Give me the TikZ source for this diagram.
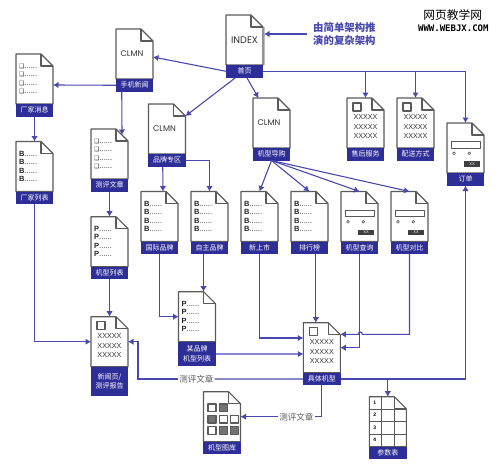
\documentclass[tikz,border=0pt]{standalone}
\usepackage{fontspec}
\setmainfont{Liberation Sans}
\newfontfamily\cjk{Noto Sans CJK SC}
\newfontfamily\dingfont{DejaVu Sans}
\newfontfamily\capsfont{Poppins}
\newfontfamily\sitefont{DejaVu Sans Mono}
\usetikzlibrary{arrows.meta,positioning}
\definecolor{tagblue}{HTML}{2E2E98}
\definecolor{flowblue}{HTML}{4848AE}
\definecolor{notegrey}{HTML}{5A5A5A}
\tikzset{
	sheetbody/.style = {anchor=north west,minimum width=37pt,minimum height=50pt,inner sep=0pt,outer sep=0pt},
	sheetline/.style = {draw=notegrey,line width=1.1pt,line join=round},
	sheettag/.style = {fill=tagblue,text=white,minimum width=37.5pt,inner sep=0pt,outer sep=0pt,align=center,font=\cjk\fontsize{7}{9.5}\selectfont},
	rowtext/.style = {anchor=west,inner sep=0pt,text=black!85,font=\fontsize{7.5}{8}\selectfont},
	midtext/.style = {inner sep=0pt,text=black!80,font=\fontsize{7.2}{8}\selectfont},
	capstext/.style = {inner sep=0pt,text=black!80,font=\capsfont\fontsize{8.2}{9}\selectfont},
	flow/.style = {draw=flowblue,line width=1.1pt,-{Latex[length=5.5pt,width=6.5pt]}},
	plainflow/.style = {draw=flowblue,line width=1.1pt},
	flowtext/.style = {fill=white,inner sep=1pt,text=notegrey,font=\cjk\fontsize{8.5}{9}\selectfont}
}
\newcommand{\sheet}[4][12.5pt]{\node[sheetbody] (#2) at (#3) {};
 	\draw[sheetline,fill=white] (#2.north west) -- ++(25,0) -- ++(12,12) -- (#2.south east) -- (#2.south west) -- cycle;
 	\draw[sheetline] ([xshift=25pt]#2.north west) -- ++(0,12) -- ++(12,0);
 	\node[sheettag,minimum height=#1,below=0pt of #2] (#2-tag) {#4}}
\newcommand{\rows}[2]{\foreach \i/\d in {0/12,1/20.5,2/29,3/37.5}
 	\node[rowtext] (#1-row\i) at ([xshift=3pt,yshift=-\d pt]#1.north west) {#2}}
\newcommand{\xrows}[1]{\draw[sheetline] ([xshift=6pt,yshift=-5pt]#1.north west) rectangle ++(8,8);
 	\foreach \i/\d in {0/19.5,1/29,2/38.5}
 	\node[midtext] (#1-row\i) at ([yshift=-\d pt]#1.north) {XXXXX}}
\newcommand{\form}[1]{\draw[sheetline] ([xshift=4.7pt,yshift=-18.7pt]#1.north west) rectangle ++(29,6.6);
 	\draw[sheetline,line width=0.6pt] ([xshift=7pt,yshift=-30.3pt]#1.north west) circle (1.4);
 	\draw[sheetline,line width=0.6pt] ([xshift=22.3pt,yshift=-30.3pt]#1.north west) circle (1.4);
 	\node[fill=black!75,text=white,inner sep=0pt,minimum width=16pt,minimum height=5.7pt,font=\fontsize{4}{4}\selectfont] (#1-btn) at ([xshift=25pt,yshift=-41pt]#1.north west) {XX}}
\newcommand{\cell}[4]{\draw[sheetline,fill=#4] ([xshift=#2 pt,yshift=-#3 pt]#1.north west) rectangle ++(8,7.7)}
\newcommand{\gridnum}[3]{\node[inner sep=0pt,font=\bfseries\fontsize{5}{5}\selectfont] (#1-num#2) at ([xshift=5.5pt,yshift=-#3 pt]#1.north west) {#2}}

\begin{document}
\begin{tikzpicture}[x=1pt,y=-1pt]
	\useasboundingbox (0,0) rectangle (500,474);
%The shadow of the first page
	\draw[black!25,line width=1.6pt] (264.5,27) -- (264.5,65);
%The pages
	\sheet{home}{226,15}{首页};
	\sheet{news}{116,29}{手机新闻};
	\sheet{maker}{16,54}{厂家消息};
	\sheet{makerlist}{16,141.5}{厂家列表};
	\sheet{review}{91,129}{测评文章};
	\sheet{modellist}{91,216.7}{机型列表};
	\sheet[29.5pt]{article}{91,316.7}{新闻页/\\测评报告};
	\sheet{brand}{148.5,104}{品牌专区};
	\sheet{intl}{141,191.5}{国际品牌};
	\sheet{own}{191,191.5}{自主品牌};
	\sheet[24.5pt]{some}{178.5,291.7}{某品牌\\机型列表};
	\sheet{guide}{253,98}{机型导购};
	\sheet{fresh}{241,191.5}{新上市};
	\sheet{rank}{291,191.5}{排行榜};
	\sheet{query}{341,191.5}{机型查询};
	\sheet{compare}{391,191.5}{机型对比};
	\sheet{service}{347,98}{售后服务};
	\sheet{delivery}{397,98}{配送方式};
	\sheet{order}{447,123}{订单};
	\sheet{deal}{303.3,322.7}{具体机型};
	\sheet{gallery}{203.5,391.7}{机型图库};
	\sheet{param}{369.3,396.7}{参数表};
%The page contents
	\node[capstext,font=\capsfont\fontsize{9.6}{10}\selectfont] (home-name) at ([xshift=18.5pt,yshift=-24.7pt]home.north west) {INDEX};
	\node[capstext] (news-name) at ([xshift=16pt,yshift=-24.7pt]news.north west) {CLMN};
	\node[capstext] (brand-name) at ([xshift=16pt,yshift=-24.7pt]brand.north west) {CLMN};
	\node[capstext] (guide-name) at ([xshift=16pt,yshift=-24.7pt]guide.north west) {CLMN};
	\rows{maker}{{\dingfont\fontsize{6}{6}\selectfont ❑}......};
	\rows{review}{{\dingfont\fontsize{6}{6}\selectfont ❑}......};
	\rows{makerlist}{\textbf{B}......};
	\rows{intl}{\textbf{B}......};
	\rows{own}{\textbf{B}......};
	\rows{fresh}{\textbf{B}......};
	\rows{rank}{\textbf{B}......};
	\rows{modellist}{\textbf{P}......};
	\rows{some}{\textbf{P}......};
	\xrows{article};
	\xrows{service};
	\xrows{delivery};
	\xrows{deal};
	\form{query};
	\form{compare};
	\form{order};
%The gallery squares
	\cell{gallery}{4.5}{12.3}{white};
	\cell{gallery}{15.8}{12.3}{black!55};
	\cell{gallery}{4.5}{23.6}{black!55};
	\cell{gallery}{15.8}{23.6}{white};
	\cell{gallery}{27.2}{23.6}{white};
	\cell{gallery}{4.5}{35}{white};
	\cell{gallery}{15.8}{35}{black!55};
	\cell{gallery}{27.2}{35}{black!55};
%The table grid
	\foreach \d in {12.5,25} \draw[sheetline] ([xshift=\d pt]param.north west) -- ([xshift=\d pt]param.south west);
	\draw[sheetline] ([yshift=-12.5pt]param.north west) -- ([yshift=-12.5pt]param.north east);
	\draw[sheetline] ([yshift=-25pt]param.north west) -- ([yshift=-25pt]param.north east);
	\draw[sheetline] ([yshift=-37.5pt]param.north west) -- ([yshift=-37.5pt]param.north east);
	\gridnum{param}{1}{6};
	\gridnum{param}{2}{18.5};
	\gridnum{param}{3}{31};
	\gridnum{param}{4}{43.5};
%The links from the first page
	\draw[flow] (home-tag.west) -- ([yshift=-3pt]news.east);
	\draw[flow] ([xshift=10pt]home-tag.south west) -- ([yshift=-12pt]brand.north east);
	\draw[flow] ([xshift=21pt]home-tag.south west) -- ([xshift=5.5pt]guide.north west);
	\draw[flow] (home-tag.east) -| (order.north);
	\draw[flow] (home-tag.east -| service.north) -- (service.north);
	\draw[flow] (home-tag.east -| delivery.north) -- (delivery.north);
%The left part
	\draw[flow] (news-tag.west) -- ([yshift=-6pt]maker.east);
	\draw[flow] ([xshift=6pt]news-tag.south west) -- ([xshift=31pt,yshift=-6pt]review.north west);
	\draw[flow] (maker-tag.south) -- (makerlist.north);
	\draw[flow] (makerlist-tag.south) |- (article.west);
	\draw[flow] (review-tag.south) -- (modellist.north);
	\draw[flow] (modellist-tag.south) -- (article.north);
%The brands
	\draw[flow] ([xshift=14.5pt]brand-tag.south west) -- ([xshift=3.5pt]intl.north);
	\draw[flow] (brand-tag.east) -| (own.north);
	\draw[flow] (intl-tag.south) |- (some.west);
	\draw[flow] ([xshift=6.5pt]some.north |- own-tag.south) -- ([xshift=6.5pt]some.north);
%The guide
	\draw[flow] (guide-tag.south) -- (fresh.north);
	\draw[flow] (guide-tag.south) -- (rank.north);
	\draw[flow] (guide-tag.south) -- (query.north);
	\draw[flow] (guide-tag.south) -- (compare.north);
%The links to the model page
	\draw[flow] (fresh-tag.south) |- ([yshift=9.7pt]deal.west);
	\draw[flow] ([xshift=-6pt]deal.north |- rank-tag.south) -- ([xshift=-6pt]deal.north);
	\draw[flow] (some-tag.east) -- ([yshift=-6.3pt]deal.west);
	\draw[flow] (query-tag.south) |- (deal.east);
	\coordinate (hopin) at ([xshift=22pt,yshift=13.4pt]deal.east);
	\coordinate (hopout) at ([xshift=18pt,yshift=13.4pt]deal.east);
	\draw[flow] (compare-tag.south) |- (hopin) .. controls +(0,-3) and +(0,-3) .. (hopout) -- ([yshift=13.4pt]deal.east);
%The links from the model page
	\node[flowtext] (reviewtext) at (196.3,379) {测评文章};
	\node[flowtext] (picturetext) at (296.3,416.7) {测评文章};
	\draw[plainflow] (deal-tag.west) -- (reviewtext.east);
	\draw[flow] (reviewtext.west) -| ([xshift=10pt]article.east) -- (article.east);
	\draw[plainflow] (deal-tag.south) |- (picturetext.east);
	\draw[flow] (picturetext.west) -- (gallery.east);
	\draw[flow] (deal-tag.east) -| (order-tag.south);
	\draw[flow] (deal-tag.east -| param.north) -- (param.north);
%The note and the mark
	\node[anchor=west,inner sep=0pt,inner xsep=6pt,align=left,text=flowblue,font=\cjk\bfseries\fontsize{10.4}{12.7}\selectfont] (note) at (307,34) {由简单架构推\\演的复杂架构};
	\draw[flow] (note.west) -- (264,34);
	\node[inner sep=0pt,font=\cjk\fontsize{11.7}{12}\selectfont] (mark) at (452.7,15.3) {网页教学网};
	\node[inner sep=0pt,font=\sitefont\bfseries\fontsize{9}{9}\selectfont] (site) at (453.3,28.3) {WWW.WEBJX.COM};
\end{tikzpicture}
\end{document}
